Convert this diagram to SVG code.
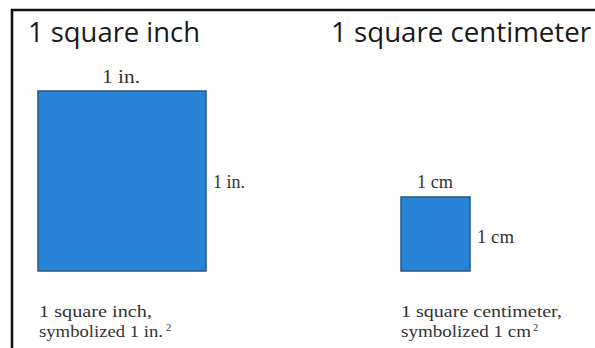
<svg xmlns="http://www.w3.org/2000/svg" width="595" height="348" viewBox="0 0 595 348">
<style>
.title{font-family:"Open Sans","Noto Sans",sans-serif;font-size:28px;fill:#1a1a1a}
.lbl{font-family:"Liberation Serif","Times New Roman",serif;font-size:18px;fill:#333}
.cap{font-family:"Liberation Serif","Times New Roman",serif;font-size:16.5px;fill:#333}
.sup{font-family:"Liberation Serif","Times New Roman",serif;font-size:10.5px;fill:#333}
.sq{fill:#2784d6;stroke:#2a5580;stroke-width:1.5}
</style>
<rect width="595" height="348" fill="#fff"/>
<g id="frame">
<path d="M12 348 V10 H595" fill="none" stroke="#111" stroke-width="2.6"/>
</g>
<g id="title-inch"><text class="title" x="28" y="42" textLength="172" lengthAdjust="spacingAndGlyphs">1 square inch</text></g>
<g id="title-cm"><text class="title" x="331" y="42" textLength="260" lengthAdjust="spacingAndGlyphs">1 square centimeter</text></g>
<g id="square-inch">
<rect class="sq" x="38" y="91" width="168" height="180"/>
<text class="lbl" x="102" y="83" textLength="38" lengthAdjust="spacingAndGlyphs">1 in.</text>
<text class="lbl" x="213" y="188" textLength="32" lengthAdjust="spacingAndGlyphs">1 in.</text>
</g>
<g id="square-cm">
<rect class="sq" x="401" y="197" width="69" height="74"/>
<text class="lbl" x="417" y="188" textLength="36" lengthAdjust="spacingAndGlyphs">1 cm</text>
<text class="lbl" x="477" y="243" textLength="37" lengthAdjust="spacingAndGlyphs">1 cm</text>
</g>
<g id="caption-inch">
<text class="cap" x="39" y="317" textLength="113" lengthAdjust="spacingAndGlyphs">1 square inch,</text>
<text class="cap" x="39" y="337" textLength="124" lengthAdjust="spacingAndGlyphs">symbolized 1 in.</text>
<text class="sup" x="166" y="331">2</text>
</g>
<g id="caption-cm">
<text class="cap" x="401" y="317" textLength="161" lengthAdjust="spacingAndGlyphs">1 square centimeter,</text>
<text class="cap" x="401" y="337" textLength="130" lengthAdjust="spacingAndGlyphs">symbolized 1 cm</text>
<text class="sup" x="533" y="331">2</text>
</g>
</svg>
